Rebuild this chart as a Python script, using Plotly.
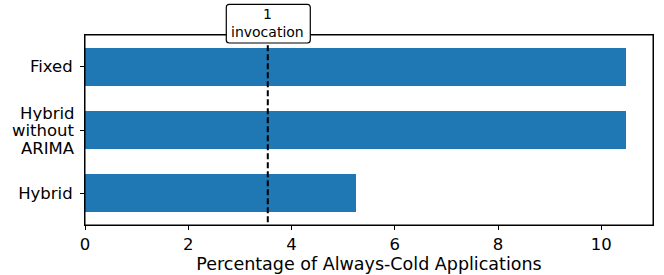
import plotly.graph_objects as go

categories = ["Fixed", "Hybrid without ARIMA", "Hybrid"]
tick_labels = ["Fixed", " ", "Hybrid"]
multiline_label = ["Hybrid", "without", "ARIMA"]   # label of the middle category
values = [10.47, 10.47, 5.25]
threshold = 3.54
threshold_label = "1<br>invocation"

FONT = "DejaVu Sans"
BLUE = "#1f77b4"
TICK_SIZE = 16.5
TITLE_SIZE = 17.5

fig = go.Figure()
fig.add_trace(go.Bar(
    x=values, y=categories, orientation="h", width=0.6,
    marker=dict(color=BLUE, line=dict(width=0)),
    hoverinfo="skip",
))

# plot-area frame
fig.add_shape(type="rect", xref="paper", yref="paper", x0=0, x1=1, y0=0, y1=1,
              line=dict(color="black", width=1), fillcolor="rgba(0,0,0,0)",
              layer="above")

# dashed vertical line
fig.add_shape(type="line", xref="x", yref="paper", x0=threshold, x1=threshold,
              y0=0.015, y1=1.0, line=dict(color="black", width=2, dash="6px,3px"),
              layer="above")

# rounded label box (pixel-sized, anchored at threshold / top of plot)
r = 3
x0, x1, yb, yt = -41.5, 42.5, -8, 30.7
path = (f"M {x0+r},{yb} L {x1-r},{yb} Q {x1},{yb} {x1},{yb+r} "
        f"L {x1},{yt-r} Q {x1},{yt} {x1-r},{yt} L {x0+r},{yt} "
        f"Q {x0},{yt} {x0},{yt-r} L {x0},{yb+r} Q {x0},{yb} {x0+r},{yb} Z")
fig.add_shape(type="path", path=path, xref="x", yref="paper",
              xsizemode="pixel", ysizemode="pixel", xanchor=threshold, yanchor=1,
              fillcolor="white", line=dict(color="black", width=1.2), layer="above")

fig.add_annotation(x=threshold, xref="x", y=1, yref="paper", yanchor="middle",
                   yshift=12, text=threshold_label, showarrow=False,
                   font=dict(family=FONT, size=14, color="black"))

# multi-line category label with tighter line spacing
for i, line in enumerate(multiline_label):
    fig.add_annotation(x=0, xref="paper", y=categories[1], yref="y",
                       xanchor="right", yanchor="middle", xshift=-9,
                       yshift=(1 - i) * 17.5, text=line, showarrow=False,
                       height=16, borderpad=0,
                       font=dict(family=FONT, size=TICK_SIZE, color="black"))

fig.update_layout(
    width=664, height=275,
    margin=dict(l=85, r=11, t=35, b=50, pad=0),
    plot_bgcolor="white", paper_bgcolor="white",
    showlegend=False,
    font=dict(family=FONT, size=TICK_SIZE, color="black"),
    bargap=0,
)
fig.update_xaxes(
    range=[0, 11.0], tickvals=[0, 2, 4, 6, 8, 10],
    showgrid=False, zeroline=False, automargin=False,
    showline=True, linecolor="black", linewidth=1, mirror=True,
    ticks="outside", ticklen=4, tickwidth=1, tickcolor="black",
    tickfont=dict(family=FONT, size=TICK_SIZE),
    title=dict(text="Percentage of Always-Cold Applications",
               font=dict(family=FONT, size=TITLE_SIZE), standoff=2),
)
fig.update_yaxes(
    type="category", categoryorder="array", categoryarray=categories,
    tickvals=categories, ticktext=tick_labels,
    range=[2.5, -0.5], automargin=False,
    showgrid=False, zeroline=False,
    showline=True, linecolor="black", linewidth=1, mirror=True,
    ticks="outside", ticklen=4, tickwidth=1, tickcolor="black",
    ticklabelstandoff=4,
    tickfont=dict(family=FONT, size=TICK_SIZE),
)

fig.write_html(
    "out.html",
    config={"displayModeBar": False},
    post_script="document.body.style.margin='0';document.body.style.overflow='hidden';",
)
